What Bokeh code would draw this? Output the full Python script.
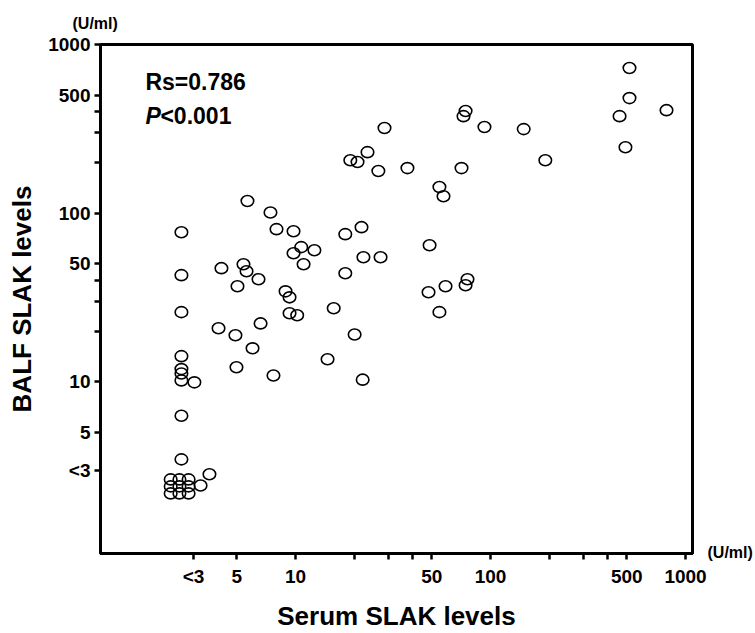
from bokeh.plotting import figure
from bokeh.models import (FixedTicker, Label, Range1d, Title, LinearAxis,
                          LinearScale)
from bokeh.embed import file_html
from bokeh.resources import INLINE

# Serum SLAK (U/ml) and BALF SLAK (U/ml); values below 3 plotted in the "<3" zone
serum = [2.60, 2.60, 2.60, 2.60, 2.60, 2.60, 2.60, 2.60, 2.60, 3.03,
         2.29, 2.54, 2.83, 2.29, 2.54, 2.83, 2.29, 2.54, 2.83,
         3.26, 3.62, 4.17, 4.03, 4.92, 6.02, 4.98, 7.71, 14.6, 6.62,
         5.04, 5.41, 5.61, 6.46, 5.67, 7.44, 7.99, 9.77, 10.7, 9.77,
         12.5, 11.0, 8.89, 9.32, 9.32, 10.2, 15.7, 20.1, 22.1, 18.0,
         21.8, 22.3, 27.3, 18.0, 54.7, 57.4, 48.7, 76.2, 74.5, 58.8,
         48.1, 54.7, 516, 516, 459, 799, 492, 74.5, 72.7, 93.1,
         148, 191, 71.0, 28.6, 23.4, 19.1, 20.8, 26.6, 37.5]
balf = [77.1, 42.9, 25.9, 14.2, 11.9, 11.2, 10.2, 6.3, 3.47, 9.93,
        2.64, 2.64, 2.64, 2.40, 2.40, 2.40, 2.18, 2.18, 2.18,
        2.43, 2.83, 47.2, 20.8, 18.9, 15.8, 12.2, 10.9, 13.6, 22.2,
        36.9, 49.8, 45.3, 40.6, 118, 101, 80.4, 78.2, 62.9, 57.9,
        60.3, 49.8, 34.4, 31.7, 25.5, 24.8, 27.3, 19.1, 10.3, 75.1,
        82.6, 54.8, 54.8, 44.0, 143, 126, 64.6, 40.6, 37.4, 36.9,
        34.0, 25.9, 725, 481, 376, 408, 246, 403, 376, 324,
        315, 206, 185, 320, 230, 206, 201, 178, 185]

tick_values = [3, 5, 10, 20, 30, 40, 50, 100, 200, 300, 400, 500, 1000]
tick_labels = ["<3", "5", "10", "", "", "", "50", "100", "", "", "", "500", "1000"]
unit_text = "(U/ml)"

FONT = "Liberation Sans"

p = figure(width=755, height=633, x_axis_type="log", y_axis_type="log",
           x_range=Range1d(1, 1086), y_range=Range1d(0.96, 1000),
           output_backend="svg", toolbar_location=None,
           min_border_left=100, min_border_right=62,
           min_border_top=44, min_border_bottom=80)
p.background_fill_color = "white"
p.border_fill_color = "white"
p.outline_line_color = "black"
p.outline_line_width = 3
p.xgrid.visible = False
p.ygrid.visible = False

for ax in (p.xaxis[0], p.yaxis[0]):
    ax.ticker = FixedTicker(ticks=tick_values, minor_ticks=[])
    ax.major_label_overrides = dict(zip(tick_values, tick_labels))
    ax.axis_line_width = 3
    ax.axis_line_color = "black"
    ax.major_tick_line_width = 2.5
    ax.major_tick_line_color = "black"
    ax.major_tick_out = 6
    ax.major_tick_in = 0
    ax.minor_tick_out = 0
    ax.minor_tick_in = 0
    ax.major_label_text_font = FONT
    ax.major_label_text_font_style = "bold"
    ax.major_label_text_font_size = "19px"
    ax.major_label_text_color = "black"
    ax.axis_label_text_font = FONT
    ax.axis_label_text_font_style = "bold"
    ax.axis_label_text_font_size = "26px"
    ax.axis_label_text_color = "black"

p.xaxis.axis_label = "Serum SLAK levels"
p.yaxis.axis_label = "BALF SLAK levels"
p.xaxis.major_label_standoff = 6
p.yaxis.major_label_standoff = 4
p.xaxis.axis_label_standoff = 11
p.yaxis.axis_label_standoff = 8

p.ellipse(x=serum, y=balf, width=12.5, height=11, width_units="screen",
          height_units="screen", fill_color=None, line_color="black",
          line_width=1.6)

p.add_layout(Label(x=1.70, y=599, text="Rs=0.786", text_font=FONT,
                   text_font_style="bold", text_font_size="23px",
                   text_baseline="middle", text_color="black"))
p.add_layout(Label(x=1.70, y=376, text="P", text_font=FONT,
                   text_font_style="bold italic", text_font_size="23px",
                   text_baseline="middle", text_color="black"))
p.add_layout(Label(x=1.70, y=376, x_offset=15, text="<0.001", text_font=FONT,
                   text_font_style="bold", text_font_size="23px",
                   text_baseline="middle", text_color="black"))

# unit note above the y axis
p.add_layout(Title(text=unit_text, align="left", offset=-28, standoff=25,
                   text_font=FONT, text_font_style="bold",
                   text_font_size="16px", text_color="black"), "above")

# unit note right of the x axis: a label-only axis on the right side
p.extra_y_ranges = {"unit": Range1d(-0.2, 100)}
p.extra_y_scales = {"unit": LinearScale()}
unit_axis = LinearAxis(y_range_name="unit", ticker=FixedTicker(ticks=[0], minor_ticks=[]),
                       major_label_overrides={0: unit_text},
                       axis_line_color=None, major_tick_line_color=None,
                       minor_tick_line_color=None, major_tick_out=0, major_tick_in=0,
                       major_label_standoff=15, major_label_text_font=FONT,
                       major_label_text_font_style="bold",
                       major_label_text_font_size="16px",
                       major_label_text_color="black")
p.add_layout(unit_axis, "right")

open("out.html", "w").write(file_html(p, INLINE))
